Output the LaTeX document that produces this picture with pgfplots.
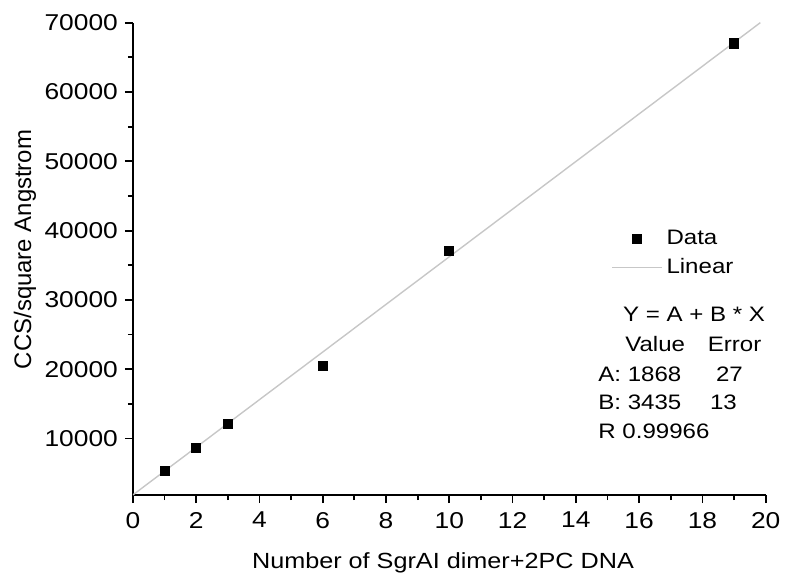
\documentclass[border=0pt]{standalone}
\usepackage{fontspec}
\setmainfont{Liberation Sans}[FakeStretch=1.15]
\newfontfamily\ylfont{Liberation Sans}
\usepackage{pgfplots}
\pgfplotsset{compat=1.18}

\newcommand\fs{\fontsize{10.5}{12.6}\selectfont}
\pgfplotsset{
    linleg/.style={legend image code/.code={\draw[##1] (0pt,0pt) -- (25pt,0pt);}},
    markleg/.style={legend image code/.code={\draw[##1, mark repeat=2, mark phase=2] plot coordinates {(0pt,0pt) (12.5pt,0pt) (25pt,0pt)};}},
}

\begin{document}
\begin{tikzpicture}
\begin{axis}[
    scale only axis,
    width=317.5pt, height=237pt,
    xmin=0, xmax=20,
    ymin=1850, ymax=70000,
    axis x line*=bottom,
    axis y line*=left,
    axis line style={line width=0.9pt},
    tick align=outside,
    major tick length=4pt,
    minor tick length=2.5pt,
    tick style={black, line width=0.9pt},
    xtick={0,2,...,20},
    ytick={10000,20000,...,70000},
    minor x tick num=1,
    minor y tick num=1,
    scaled y ticks=false,
    /pgf/number format/1000 sep={},
    /pgf/number format/assume math mode=true,
    ticklabel style={font=\fontsize{11.5}{13}\selectfont},
    xticklabel style={yshift=-1pt},
    xlabel={Number of SgrAI dimer+2PC DNA},
    ylabel={CCS/square Angstrom},
    xlabel style={font=\fontsize{11}{13}\selectfont, at={(rel axis cs:0.49,-0.144)}, anchor=center},
    ylabel style={font=\ylfont\fontsize{12}{14}\selectfont, at={(rel axis cs:-0.1706,0.52)}, anchor=center},
    reverse legend,
    legend cell align=left,
    legend style={draw=none, fill=none, font=\fs, inner sep=0pt,
        at={(rel axis cs:0.7554,0.512)}, anchor=west, row sep=1.5pt},
]
% linear fit, Y = 1868 + 3435 X, stopped at the top of the axis
\addplot[black!22, line width=0.7pt, linleg]
    coordinates {(0,1868) (19.83,70000)};
\addlegendentry{Linear}
\addplot[only marks, mark=square*, mark size=2.3pt, black, markleg]
    coordinates {(1,5300) (2,8660) (3,12150) (6,20440) (10,37050) (19,67000)};
\addlegendentry{Data}

\node[anchor=west, inner sep=0pt, font=\fs] at (axis cs:15.48,27960) {Y = A + B * X};
\node[anchor=west, inner sep=0pt, font=\fs] at (axis cs:15.55,23650) {Value};
\node[anchor=west, inner sep=0pt, font=\fs] at (axis cs:18.16,23650) {Error};
\node[anchor=west, inner sep=0pt, font=\fs] at (axis cs:14.7,19340) {A: 1868};
\node[anchor=west, inner sep=0pt, font=\fs] at (axis cs:18.42,19340) {27};
\node[anchor=west, inner sep=0pt, font=\fs] at (axis cs:14.7,15170) {B: 3435};
\node[anchor=west, inner sep=0pt, font=\fs] at (axis cs:18.23,15170) {13};
\node[anchor=west, inner sep=0pt, font=\fs] at (axis cs:14.7,11000) {R 0.99966};

\coordinate (bl) at (rel axis cs:-0.21,-0.186);
\coordinate (tr) at (rel axis cs:1.0295,1.048);
\end{axis}
\path (bl) rectangle (tr);
\end{tikzpicture}
\end{document}
